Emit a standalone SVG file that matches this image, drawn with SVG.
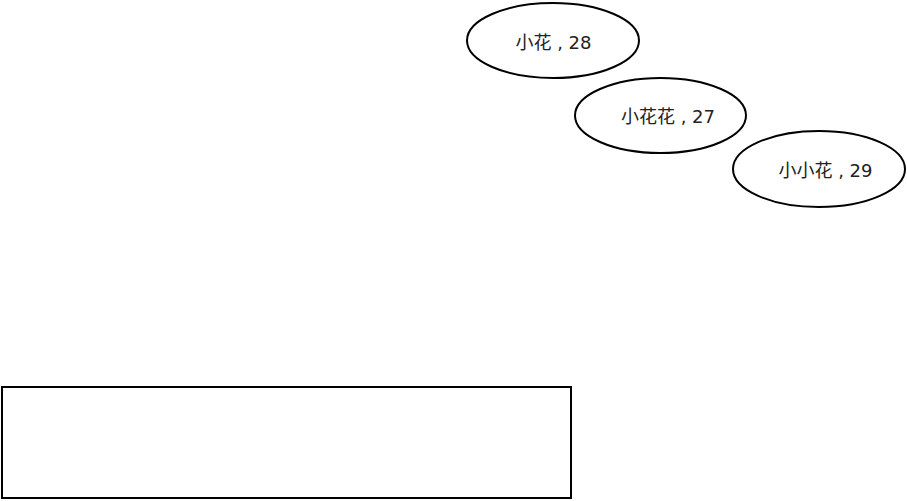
<svg xmlns="http://www.w3.org/2000/svg" width="907" height="501" viewBox="0 0 907 501">
<style>
.shape{fill:#ffffff;stroke:#000000;stroke-width:2}
.lbl{font-family:"DejaVu Sans","Noto Sans CJK SC",sans-serif;font-size:18px;fill:#222222;text-anchor:middle}
</style>
<rect width="907" height="501" fill="#ffffff"/>
<g id="connectors"></g>
<g id="node-1">
<ellipse class="shape" cx="553" cy="40.5" rx="86" ry="37.5"/>
<text class="lbl" x="553.5" y="48.5">小花 , 28</text>
</g>
<g id="node-2">
<ellipse class="shape" cx="660.5" cy="115.5" rx="85.5" ry="37.5"/>
<text class="lbl" x="668" y="123">小花花 , 27</text>
</g>
<g id="node-3">
<ellipse class="shape" cx="819" cy="169" rx="86" ry="38"/>
<text class="lbl" x="825.5" y="177">小小花 , 29</text>
</g>
<g id="node-4">
<rect class="shape" x="2" y="387" width="569" height="111"/>
</g>
</svg>
